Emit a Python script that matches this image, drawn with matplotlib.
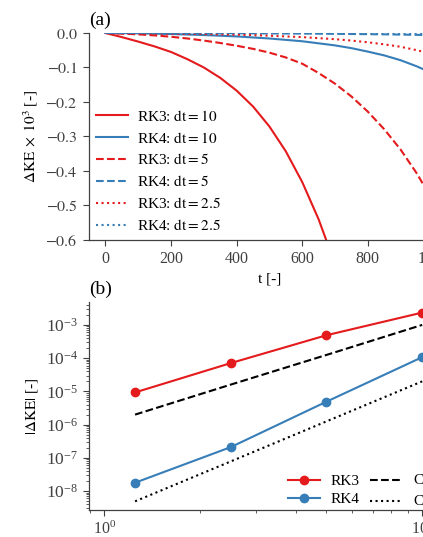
import matplotlib
matplotlib.use('Agg')
import matplotlib.pyplot as plt
from matplotlib.ticker import FuncFormatter, LogLocator

plt.rcParams['font.family'] = ['Liberation Serif', 'DejaVu Serif']
plt.rcParams['mathtext.fontset'] = 'stix'
plt.rcParams['font.size'] = 11
plt.rcParams['xtick.labelsize'] = 11.5
plt.rcParams['ytick.labelsize'] = 11.5
plt.rcParams['axes.linewidth'] = 0.9
plt.rcParams['axes.edgecolor'] = '0.25'
plt.rcParams['xtick.major.size'] = 4.5
plt.rcParams['ytick.major.size'] = 4.5
plt.rcParams['xtick.minor.size'] = 2.5
plt.rcParams['ytick.minor.size'] = 2.5
plt.rcParams['xtick.color'] = '0.25'
plt.rcParams['ytick.color'] = '0.25'

red = '#e41a1c'
blue = '#377eb8'

# Panel (a): kinetic energy drift vs. time
t = [0, 50, 100, 150, 200, 250, 300, 350, 400, 450, 500,
     550, 600, 650, 700, 750, 800, 850, 900, 950, 1000]
rk3_dt10 = [0, -0.012, -0.025, -0.039, -0.055, -0.076, -0.100, -0.130, -0.167, -0.213, -0.271,
            -0.343, -0.432, -0.540, -0.670, -0.83, -1.02, -1.24, -1.50, -1.80, -2.15]
rk4_dt10 = [0, -0.0004, -0.001, -0.002, -0.003, -0.0045, -0.006, -0.008, -0.010, -0.013, -0.016,
            -0.020, -0.024, -0.030, -0.036, -0.044, -0.054, -0.065, -0.079, -0.097, -0.118]
rk3_dt5 = [0, -0.002, -0.004, -0.007, -0.011, -0.016, -0.022, -0.029, -0.037, -0.046, -0.057,
           -0.071, -0.089, -0.116, -0.147, -0.184, -0.228, -0.279, -0.338, -0.408, -0.490]
rk4_dt5 = [0, -0.0001, -0.0002, -0.0003, -0.0004, -0.0005, -0.0006, -0.0007, -0.0009, -0.0011, -0.0013,
           -0.0015, -0.0018, -0.0021, -0.0025, -0.003, -0.0035, -0.004, -0.0047, -0.0055, -0.0065]
rk3_dt25 = [0, -0.0005, -0.001, -0.0015, -0.002, -0.0025, -0.003, -0.004, -0.005, -0.0063, -0.008,
            -0.010, -0.012, -0.015, -0.018, -0.022, -0.027, -0.033, -0.040, -0.050, -0.062]
rk4_dt25 = [0, 0, 0, 0, 0, 0, 0, 0, 0, 0, -0.0001,
            -0.0001, -0.0001, -0.0001, -0.0002, -0.0002, -0.0002, -0.0003, -0.0003, -0.0003, -0.0004]

# Panel (b): error vs. time step
dt = [1.25, 2.5, 5, 10]
err_rk3 = [9.3e-6, 7.1e-5, 4.9e-4, 2.35e-3]
err_rk4 = [1.78e-8, 2.1e-7, 4.9e-6, 1.07e-4]
ref_o3 = [2.0e-6, 1.6e-5, 1.25e-4, 1.0e-3]
ref_o4 = [4.9e-9, 7.8e-8, 1.25e-6, 2.0e-5]

fig = plt.figure(figsize=(4.23, 5.37), dpi=100)
ax1 = fig.add_axes([0.2104, 0.5531, 0.853, 0.3855])
ax2 = fig.add_axes([0.2104, 0.0503, 0.853, 0.3873])

ax1.plot(t, rk3_dt10, color=red, ls='-', lw=1.5, label=r'RK3: $\mathrm{dt} = 10$')
ax1.plot(t, rk4_dt10, color=blue, ls='-', lw=1.5, label=r'RK4: $\mathrm{dt} = 10$')
ax1.plot(t, rk3_dt5, color=red, ls='--', lw=1.5, label=r'RK3: $\mathrm{dt} = 5$')
ax1.plot(t, rk4_dt5, color=blue, ls='--', lw=1.5, label=r'RK4: $\mathrm{dt} = 5$')
ax1.plot(t, rk3_dt25, color=red, ls=':', lw=1.5, label=r'RK3: $\mathrm{dt} = 2.5$')
ax1.plot(t, rk4_dt25, color=blue, ls=':', lw=1.5, label=r'RK4: $\mathrm{dt} = 2.5$')
ax1.set_xlim(-50, 1050)
ax1.set_ylim(-0.6, 0.0)
ax1.yaxis.set_major_formatter(FuncFormatter(lambda v, p: r'$%.1f$' % v))
ax1.set_xlabel('t [-]', labelpad=4)
ax1.set_ylabel(r'$\Delta\mathrm{KE}\;\times\;10^3$ [-]')
ax1.legend(loc='lower left', frameon=False, handlelength=2.1, handletextpad=0.6,
           labelspacing=0.45, borderaxespad=0.05)
ax1.text(0.0, 1.02, '(a)', transform=ax1.transAxes, fontsize=14, va='bottom', ha='left')

ax2.loglog(dt, err_rk3, color=red, marker='o', ms=6, lw=1.5, label='RK3')
ax2.loglog(dt, err_rk4, color=blue, marker='o', ms=6, lw=1.5, label='RK4')
ax2.loglog(dt, ref_o3, color='black', ls='--', lw=1.5, label=r'C$\,\mathrm{dt}^3$')
ax2.loglog(dt, ref_o4, color='black', ls=':', lw=1.5, label=r'C$\,\mathrm{dt}^4$')
ax2.set_xlim(10 ** -0.048, 10 ** 1.087)
ax2.set_ylim(10 ** -8.57, 10 ** -2.31)
ax2.yaxis.set_major_locator(LogLocator(base=10, numticks=20))
ax2.yaxis.set_minor_locator(LogLocator(base=10, subs=range(2, 10), numticks=20))
ax2.tick_params(axis='y', which='major', labelsize=12.5)
ax2.set_ylabel(r'$|\Delta\mathrm{KE}|$ [-]')
ax2.legend(loc='lower left', bbox_to_anchor=(0.534, -0.025), ncol=2, frameon=False,
           handlelength=2.1, handletextpad=0.7, labelspacing=0.3, columnspacing=0.7,
           borderaxespad=0.0)
ax2.text(0.0, 1.02, '(b)', transform=ax2.transAxes, fontsize=14, va='bottom', ha='left')

for ax in (ax1, ax2):
    ax.spines['top'].set_visible(False)
    ax.spines['right'].set_visible(False)

fig.savefig('out.png', dpi=100)
